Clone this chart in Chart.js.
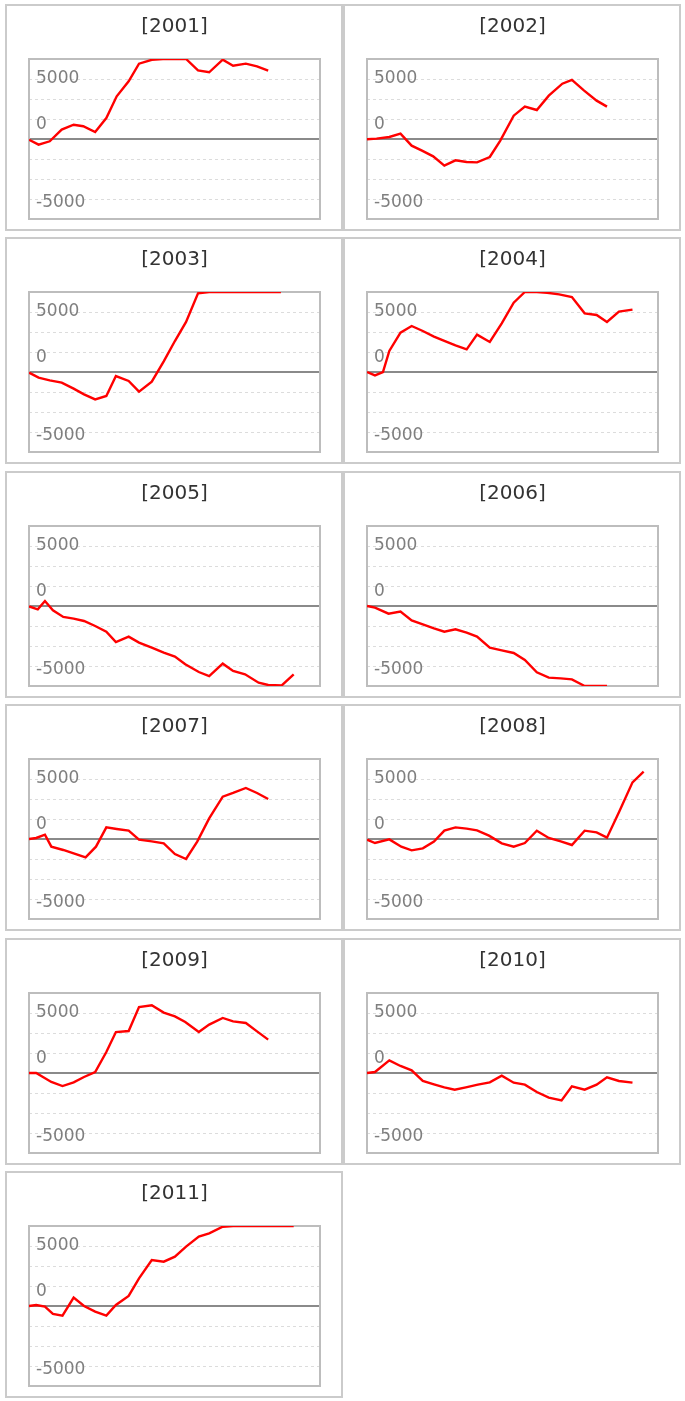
<!DOCTYPE html>
<html>
<head>
<meta charset="utf-8">
<script src="https://cdn.jsdelivr.net/npm/chart.js@4.4.1/dist/chart.umd.min.js"></script>
<style>
  body { margin: 0; background: #fff; }
  #wrap { position: relative; width: 685px; height: 1401px; }
  .panel { position: absolute; width: 334px; height: 223px; border: 2px solid #cbcbcb; background: #fff; }
  .panel canvas { display: block; }
</style>
</head>
<body>
<div id="wrap"></div>
<script>
// day of year for each sample, and the value on that day
const years = ['2001', '2002', '2003', '2004', '2005', '2006', '2007', '2008', '2009', '2010', '2011'];

const days2001 = [0, 12, 26, 41, 56, 68, 83, 97, 110, 125, 138, 154, 168, 183, 197, 212, 226, 243, 256, 272, 286, 300];
const values2001 = [-60, -470, -190, 780, 1190, 1060, 580, 1750, 3560, 4810, 6280, 6600, 6667, 6667, 6667, 5720, 5560, 6610, 6110, 6280, 6060, 5700];

const days2002 = [0, 12, 28, 42, 56, 69, 83, 97, 111, 125, 138, 154, 167, 184, 198, 213, 228, 245, 257, 272, 288, 301];
const values2002 = [-20, 30, 170, 445, -555, -970, -1445, -2220, -1780, -1915, -1945, -1500, -150, 1945, 2695, 2415, 3610, 4610, 4920, 4055, 3195, 2695];

const days2003 = [0, 12, 26, 41, 56, 69, 83, 97, 109, 125, 138, 154, 169, 183, 197, 212, 226, 240, 254, 269, 283, 298, 316];
const values2003 = [-55, -470, -695, -890, -1390, -1860, -2280, -2000, -335, -750, -1640, -805, 890, 2580, 4170, 6556, 6667, 6667, 6667, 6667, 6667, 6667, 6667];

const days2004 = [0, 10, 20, 28, 42, 56, 70, 84, 97, 111, 125, 138, 154, 169, 184, 198, 213, 226, 241, 257, 273, 288, 301, 316, 333];
const values2004 = [0, -280, 0, 1750, 3280, 3835, 3415, 2945, 2585, 2220, 1890, 3110, 2500, 4055, 5780, 6667, 6667, 6600, 6470, 6250, 4890, 4750, 4170, 5030, 5195];

const days2005 = [0, 11, 20, 30, 43, 56, 69, 83, 97, 109, 125, 138, 154, 169, 183, 196, 213, 226, 243, 256, 271, 288, 300, 317, 332];
const values2005 = [-30, -280, 415, -360, -915, -1055, -1250, -1665, -2140, -3000, -2555, -3055, -3470, -3890, -4220, -4860, -5500, -5835, -4805, -5415, -5695, -6390, -6585, -6620, -5695];

const days2006 = [0, 10, 27, 42, 56, 70, 84, 97, 111, 125, 138, 154, 169, 184, 198, 213, 228, 243, 257, 273, 287, 301];
const values2006 = [0, -140, -640, -470, -1195, -1530, -1860, -2140, -1945, -2220, -2555, -3470, -3695, -3915, -4500, -5530, -5970, -6030, -6110, -6667, -6667, -6667];

const days2007 = [0, 9, 20, 28, 43, 56, 71, 84, 97, 110, 125, 138, 154, 169, 183, 197, 211, 226, 243, 256, 272, 286, 300];
const values2007 = [0, 85, 360, -640, -915, -1195, -1530, -640, 970, 835, 695, -55, -195, -360, -1250, -1665, -220, 1720, 3530, 3835, 4250, 3835, 3335];

const days2008 = [0, 10, 28, 43, 56, 70, 84, 97, 111, 125, 138, 153, 169, 184, 198, 213, 228, 243, 257, 273, 288, 301, 316, 333, 347];
const values2008 = [-55, -335, -30, -640, -945, -780, -220, 695, 970, 860, 720, 280, -360, -640, -335, 695, 85, -195, -500, 695, 555, 110, 2220, 4720, 5610];

const days2009 = [0, 9, 28, 42, 56, 69, 83, 97, 109, 125, 138, 154, 169, 183, 196, 213, 226, 243, 256, 272, 286, 300];
const values2009 = [0, 0, -750, -1085, -780, -335, 85, 1750, 3415, 3500, 5500, 5640, 5030, 4720, 4250, 3415, 4030, 4585, 4305, 4165, 3470, 2780];

const days2010 = [0, 10, 28, 42, 56, 70, 84, 97, 110, 124, 139, 154, 169, 184, 198, 213, 228, 244, 257, 273, 288, 301, 316, 333];
const values2010 = [0, 85, 1050, 585, 220, -665, -945, -1195, -1390, -1195, -970, -780, -220, -805, -970, -1585, -2055, -2280, -1110, -1390, -970, -360, -665, -805];

const days2011 = [0, 9, 20, 30, 42, 56, 69, 83, 97, 109, 125, 138, 154, 169, 183, 197, 213, 226, 243, 256, 272, 286, 300, 317, 332];
const values2011 = [0, 85, -55, -665, -805, 695, 0, -470, -805, 85, 835, 2305, 3835, 3695, 4110, 4945, 5780, 6060, 6610, 6667, 6667, 6667, 6667, 6667, 6667];

const tickLabels = [5000, 0, -5000];

const series = [
  [days2001, values2001], [days2002, values2002], [days2003, values2003], [days2004, values2004],
  [days2005, values2005], [days2006, values2006], [days2007, values2007], [days2008, values2008],
  [days2009, values2009], [days2010, values2010], [days2011, values2011]
];

const yLimit = 20000 / 3;
const gridStep = 5000 / 3;

Chart.defaults.font.family = '"DejaVu Sans", Verdana, sans-serif';

// zero line, frame and the inside tick labels
const framePlugin = {
  id: 'frame',
  beforeDatasetsDraw(chart) {
    const { ctx, chartArea: a, scales: { y } } = chart;
    ctx.save();
    const y0 = y.getPixelForValue(0);
    ctx.strokeStyle = '#8a8a8a';
    ctx.lineWidth = 2;
    ctx.beginPath();
    ctx.moveTo(a.left, y0);
    ctx.lineTo(a.right, y0);
    ctx.stroke();

    ctx.font = '17px "DejaVu Sans"';
    ctx.fillStyle = '#7f7f7f';
    ctx.textAlign = 'left';
    ctx.textBaseline = 'alphabetic';
    tickLabels.forEach(v => {
      let shift = v === 0 ? -16.5 : (v > 0 ? -2 : 2);
      ctx.fillText(String(v), a.left + 7, y.getPixelForValue(v) + shift + 6.2);
    });

    ctx.strokeStyle = '#bdbdbd';
    ctx.lineWidth = 2;
    ctx.strokeRect(a.left, a.top, a.right - a.left, a.bottom - a.top);
    ctx.restore();
  }
};

const wrap = document.getElementById('wrap');

years.forEach((year, i) => {
  const col = i % 2;
  const row = Math.floor(i / 2);
  const panel = document.createElement('div');
  panel.className = 'panel';
  panel.style.left = (5 + col * 338) + 'px';
  panel.style.top = Math.round(4 + row * 233.4) + 'px';
  const canvas = document.createElement('canvas');
  canvas.width = 334;
  canvas.height = 223;
  panel.appendChild(canvas);
  wrap.appendChild(panel);

  const [days, values] = series[i];
  const points = days.map((d, k) => ({ x: d, y: values[k] }));

  new Chart(canvas.getContext('2d'), {
    type: 'line',
    data: {
      datasets: [{
        data: points,
        borderColor: '#ff0000',
        borderWidth: 2.4,
        pointRadius: 0,
        tension: 0,
        fill: false
      }]
    },
    options: {
      responsive: false,
      animation: false,
      devicePixelRatio: 1,
      layout: { padding: { left: 22, right: 21, top: 0, bottom: 10 } },
      plugins: {
        legend: { display: false },
        tooltip: { enabled: false },
        title: {
          display: true,
          text: '[' + year + ']',
          color: '#333',
          font: { size: 20, weight: 'normal' },
          padding: { top: 9, bottom: 20 }
        }
      },
      scales: {
        x: { type: 'linear', min: 0, max: 365, display: false },
        y: {
          min: -yLimit,
          max: yLimit,
          afterBuildTicks: scale => {
            const t = [];
            for (let k = -3; k <= 3; k++) {
              if (k !== 0) t.push({ value: k * gridStep });
            }
            scale.ticks = t;
          },
          ticks: { display: false },
          grid: { drawTicks: false, color: '#dcdcdc', lineWidth: 1 },
          border: { display: false, dash: [3, 3] }
        }
      }
    },
    plugins: [framePlugin]
  });
});
</script>
</body>
</html>
